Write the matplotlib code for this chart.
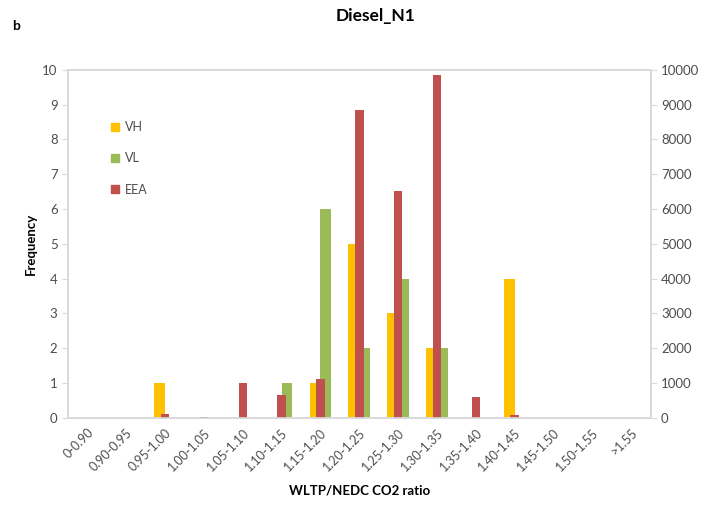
import numpy as np
import matplotlib
matplotlib.use('Agg')
import matplotlib.pyplot as plt
from matplotlib.patches import Patch

plt.rcParams['font.family'] = ['Lato', 'DejaVu Sans']

# Bins of the WLTP/NEDC CO2 ratio
categories = ['0-0.90', '0.90-0.95', '0.95-1.00', '1.00-1.05', '1.05-1.10',
              '1.10-1.15', '1.15-1.20', '1.20-1.25', '1.25-1.30', '1.30-1.35',
              '1.35-1.40', '1.40-1.45', '1.45-1.50', '1.50-1.55', '>1.55']

# Test vehicles (left axis)
vh = [0, 0, 1, 0, 0, 0, 1, 5, 3, 2, 0, 4, 0, 0, 0]
vl = [0, 0, 0, 0, 0, 1, 6, 2, 4, 2, 0, 0, 0, 0, 0]
# EEA fleet (right axis)
eea = [0, 0, 115, 25, 1000, 670, 1120, 8830, 6530, 9850, 600, 90, 0, 0, 0]

c_vh = '#FFC000'
c_vl = '#9BBB59'
c_eea = '#C0504D'
grid_c = '#D9D9D9'
tick_c = '#4D4D4D'

fig = plt.figure(figsize=(7.08, 5.09), dpi=100)
ax = fig.add_axes([0.096, 0.179, 0.823, 0.684])
ax2 = ax.twinx()

x = np.arange(len(categories))
w = 0.28
ax.bar(x - w, vh, width=w, align='edge', color=c_vh)
ax.bar(x, vl, width=w, align='edge', color=c_vl)
ax2.bar(x, eea, width=0.22, color=c_eea)

ax.set_xlim(-0.5, len(categories) - 0.5)
ax.set_ylim(0, 10)
ax2.set_ylim(0, 10000)
ax.set_yticks(range(0, 11))
ax2.set_yticks(range(0, 10001, 1000))

ax.set_xticks(x)
ax.set_xticklabels(categories, rotation=45, ha='right', rotation_mode='anchor')
ax.tick_params(axis='x', length=0, pad=6, labelsize=9, labelcolor=tick_c)
ax.tick_params(axis='y', length=4, color=grid_c, labelsize=9.5, labelcolor=tick_c)
ax2.tick_params(axis='y', length=4, color=grid_c, labelsize=9.5, labelcolor=tick_c)

for a in (ax, ax2):
    for s in a.spines.values():
        s.set_color(grid_c)
        s.set_linewidth(1.2)

ax.set_xlabel('WLTP/NEDC CO2 ratio', fontsize=9.5, fontweight='bold', labelpad=8)
ax.set_ylabel('Frequency', fontsize=9.5, fontweight='bold', labelpad=4)

handles = [Patch(color=c_vh), Patch(color=c_vl), Patch(color=c_eea)]
ax2.legend(handles, ['VH', 'VL', 'EEA'], loc='upper left',
           bbox_to_anchor=(0.055, 0.885), frameon=False, fontsize=9,
           handlelength=0.6, handleheight=0.6, handletextpad=0.5,
           labelspacing=1.55, labelcolor=tick_c)

fig.text(0.53, 0.968, 'Diesel_N1', ha='center', va='center',
         fontsize=12.5, fontweight='bold')
fig.text(0.017, 0.948, 'b', ha='left', va='center', fontsize=10, fontweight='bold')

fig.savefig('out.png', dpi=100)
